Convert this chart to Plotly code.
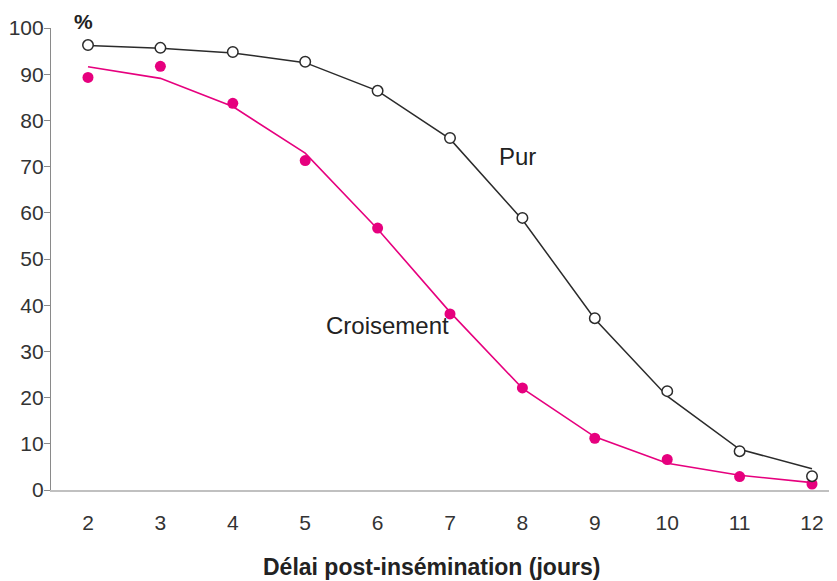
import plotly.graph_objects as go

days = [2, 3, 4, 5, 6, 7, 8, 9, 10, 11, 12]
pur_points = [96.3, 95.7, 94.8, 92.7, 86.4, 76.2, 58.9, 37.2, 21.4, 8.4, 3.0]
pur_curve = [96.2, 95.6, 94.6, 92.5, 86.4, 76.0, 58.5, 37.0, 20.3, 8.8, 4.6]
crois_points = [89.3, 91.7, 83.7, 71.3, 56.7, 38.1, 22.1, 11.2, 6.6, 2.9, 1.3]
crois_curve = [91.6, 89.1, 83.0, 72.9, 56.5, 38.5, 22.0, 11.5, 5.8, 3.2, 1.6]
y_ticks = [0, 10, 20, 30, 40, 50, 60, 70, 80, 90, 100]

FONT = "Liberation Sans, Arial, Helvetica, sans-serif"
MAGENTA = "#E6007E"

fig = go.Figure()
fig.add_trace(go.Scatter(x=days, y=crois_curve, mode="lines",
                         line=dict(color=MAGENTA, width=1.6), showlegend=False))
fig.add_trace(go.Scatter(x=days, y=pur_curve, mode="lines",
                         line=dict(color="#2b2b2b", width=1.5), showlegend=False))
fig.add_trace(go.Scatter(x=days, y=crois_points, mode="markers",
                         marker=dict(color=MAGENTA, size=11, line=dict(width=0)),
                         showlegend=False))
fig.add_trace(go.Scatter(x=days, y=pur_points, mode="markers",
                         marker=dict(color="white", size=10.5, line=dict(color="#2b2b2b", width=1.5)),
                         showlegend=False))

fig.add_annotation(x=7.93, y=72.1, text="Pur", showarrow=False,
                   font=dict(family=FONT, size=24, color="#222"))
fig.add_annotation(x=6.13, y=35.5, text="Croisement", showarrow=False,
                   font=dict(family=FONT, size=24, color="#222"))
fig.add_annotation(x=0.0412, y=1.0150, xref="paper", yref="paper", text="<b>%</b>",
                   showarrow=False, xanchor="center", yanchor="middle",
                   font=dict(family=FONT, size=21, color="#222"))
fig.add_annotation(x=0.4835, y=-0.1667, xref="paper", yref="paper",
                   text="<b>Délai post-insémination (jours)</b>", showarrow=False,
                   xanchor="center", yanchor="middle",
                   font=dict(family=FONT, size=23, color="#222"))

# the page body has an 8px margin, so the figure is offset by (8, 8)
fig.update_layout(
    width=829, height=573,
    margin=dict(l=43, r=0, t=20, b=91),
    paper_bgcolor="white", plot_bgcolor="white",
    font=dict(family=FONT, color="#333"),
    xaxis=dict(range=[1.489, 12.345], tickvals=days, showgrid=False, zeroline=False,
               showline=True, linecolor="#c0c0c0", linewidth=1.5,
               ticks="outside", ticklen=13, tickcolor="rgba(0,0,0,0)",
               automargin=False, tickfont=dict(size=21, color="#333")),
    yaxis=dict(range=[0, 100], tickvals=y_ticks, showgrid=False, zeroline=False,
               showline=True, linecolor="#8a8a8a", linewidth=1.2, ticks="outside",
               ticklen=6, tickcolor="#8a8a8a", tickwidth=1, ticklabelstandoff=-4,
               automargin=False, tickfont=dict(size=21, color="#333")),
)

fig.write_html("out.html")
